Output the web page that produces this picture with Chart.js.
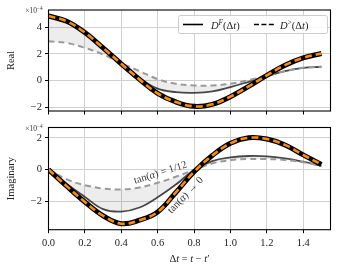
<!DOCTYPE html>
<html><head><meta charset="utf-8">
<script src="https://cdn.jsdelivr.net/npm/chart.js@4"></script>
<style>
html,body{margin:0;padding:0;background:#fff;}
#wrap{position:relative;width:341px;height:273px;overflow:hidden;background:#fff;}
canvas{position:absolute;left:0;}
</style></head><body>
<div id="wrap">
<canvas id="cTop" width="341" height="122" style="top:0px"></canvas>
<canvas id="cBot" width="341" height="155" style="top:118px"></canvas>
</div>
<script>
// ---- data (values in units of 1e-4) ----
const xValues       = [0.0, 0.1, 0.2, 0.3, 0.4, 0.5, 0.6, 0.7, 0.8, 0.9, 1.0, 1.1, 1.2, 1.3, 1.4, 1.5];
const realExact     = [4.85, 4.45, 3.6, 2.45, 1.25, 0.08, -0.97, -1.62, -1.95, -1.8, -1.22, -0.45, 0.38, 1.15, 1.7, 2.03];
const realTan       = [4.8, 4.4, 3.55, 2.42, 1.25, 0.18, -0.62, -0.88, -0.93, -0.83, -0.5, -0.1, 0.32, 0.7, 0.95, 1.03];
const realLesser    = [2.95, 2.82, 2.45, 1.95, 1.3, 0.7, 0.1, -0.25, -0.38, -0.38, -0.25, 0.03, 0.35, 0.7, 0.95, 1.03];
const imagExact     = [0.0, -1.05, -2.05, -2.92, -3.42, -3.2, -2.68, -1.45, -0.15, 0.88, 1.65, 2.0, 1.92, 1.55, 0.92, 0.32];
const imagTan       = [0.0, -0.92, -1.73, -2.5, -2.66, -2.4, -1.75, -0.95, -0.04, 0.53, 0.76, 0.85, 0.83, 0.7, 0.49, 0.23];
const imagLesser    = [0.0, -0.62, -0.99, -1.2, -1.26, -1.14, -0.84, -0.46, -0.02, 0.38, 0.59, 0.66, 0.66, 0.6, 0.45, 0.23];
const xTickValues   = [0.0, 0.2, 0.4, 0.6, 0.8, 1.0, 1.2, 1.4];
const realTickValues = [-2, 0, 2, 4];
const imagTickValues = [-2, 0, 2];
const legendLabels  = ['D^F(Δt)', 'D^>(Δt)'];
const panelTitles   = ['Real', 'Imaginary'];

const SERIF = '"Liberation Serif", "DejaVu Serif", serif';
const GRID = '#d0d0d0';
const FILL = 'rgba(0,0,0,0.07)';

function fmtY(v){ return v < 0 ? '\u2212' + Math.abs(v) : String(v); }

function fontFor(st, size){
  const sup = st === 's' || st === 'sr';
  const it = st === 'i' || st === 's';
  return (it ? 'italic ' : '') + (sup ? size*0.7 : size) + 'px ' + SERIF;
}
function richWidth(ctx, parts, size){
  let w = 0;
  for (const [t, st] of parts){ ctx.font = fontFor(st, size); w += ctx.measureText(t).width; }
  return w;
}
function drawRich(ctx, parts, x, y, size, align){
  const w = richWidth(ctx, parts, size);
  let cx = align === 'center' ? x - w/2 : (align === 'right' ? x - w : x);
  ctx.textBaseline = 'alphabetic';
  ctx.textAlign = 'left';
  for (const [t, st] of parts){
    ctx.font = fontFor(st, size);
    const dy = (st === 's' || st === 'sr') ? -size*0.38 : 0;
    ctx.fillText(t, cx, y + dy);
    cx += ctx.measureText(t).width;
  }
}

function buildDatasets(exact, tan, lesser){
  return [
    {data: tan, borderColor: 'rgba(40,40,40,0.85)', borderWidth: 1.8, order: 4},
    {data: lesser, borderColor: '#9a9a9a', borderWidth: 2, borderDash: [6,4], order: 3,
     fill: {target: 0, above: FILL, below: FILL}},
    {data: exact, borderColor: '#000', borderWidth: 5, order: 2},
    {data: exact, borderColor: '#ff8c00', borderWidth: 2.6, borderDash: [7,4], order: 1}
  ].map(d => Object.assign({pointRadius: 0, tension: 0.4, fill: false}, d))
   .map(d => Object.assign(d, {data: d.data.map((v, i) => ({x: xValues[i], y: v}))}));
}

const framePlugin = {
  id: 'frame',
  afterDatasetsDraw(chart){
    const {ctx, chartArea: a} = chart;
    ctx.save();
    ctx.strokeStyle = '#000';
    ctx.lineWidth = 1.1;
    ctx.strokeRect(a.left, a.top, a.right - a.left, a.bottom - a.top);
    ctx.fillStyle = '#333';
    drawRich(ctx, [['\u00d710', 'r'], ['\u22124', 'sr']], a.left - 6, a.top + 3, 7.5, 'right');
    ctx.restore();
  }
};

function makeOptions(yMin, yMax, yTicks, title, showX, padTop){
  return {
    responsive: false, animation: false, devicePixelRatio: 1,
    layout: {padding: {top: padTop, right: 10.5, left: 0, bottom: 0}},
    plugins: {legend: {display: false}, tooltip: {enabled: false}, filler: {drawTime: 'beforeDatasetsDraw'}},
    scales: {
      x: {
        type: 'linear', min: 0, max: 1.55,
        afterBuildTicks: s => { s.ticks = xTickValues.map(v => ({value: v})); },
        afterFit: s => { s.height = showX ? 43.3 : 11; },
        grid: {color: GRID, lineWidth: 1, tickLength: 3.5, tickColor: '#000', tickWidth: 1},
        border: {display: false},
        ticks: {display: showX, color: '#222', padding: 4, font: {family: SERIF, size: 10.5},
                maxRotation: 0, autoSkip: false, callback: v => Number(v).toFixed(1)}
      },
      y: {
        type: 'linear', min: yMin, max: yMax,
        afterBuildTicks: s => { s.ticks = yTicks.map(v => ({value: v})); },
        afterFit: s => { s.width = 48.5; },
        grid: {color: GRID, lineWidth: 1, tickLength: 3.5, tickColor: '#000', tickWidth: 1},
        border: {display: false},
        title: {display: true, text: title, color: '#222', padding: {top: 5, bottom: 0},
                font: {family: SERIF, size: 10.5}},
        ticks: {color: '#222', padding: 3, font: {family: SERIF, size: 10.5}, callback: v => fmtY(v)}
      }
    }
  };
}

const topLegend = {
  id: 'topLegend',
  afterDraw(chart){
    const ctx = chart.ctx;
    ctx.save();
    ctx.beginPath();
    if (ctx.roundRect) ctx.roundRect(178.5, 15.5, 149, 18, 2); else ctx.rect(178.5, 15.5, 149, 18);
    ctx.fillStyle = 'rgba(255,255,255,0.85)';
    ctx.fill();
    ctx.strokeStyle = '#cccccc';
    ctx.lineWidth = 1;
    ctx.stroke();
    ctx.strokeStyle = '#000';
    ctx.lineWidth = 1.6;
    ctx.beginPath(); ctx.moveTo(183, 24.5); ctx.lineTo(203, 24.5); ctx.stroke();
    ctx.setLineDash([5, 2.4]);
    ctx.beginPath(); ctx.moveTo(254, 24.5); ctx.lineTo(274, 24.5); ctx.stroke();
    ctx.setLineDash([]);
    ctx.fillStyle = '#222';
    const p1 = legendLabels[0].split('^'), p2 = legendLabels[1].split('^');
    drawRich(ctx, [[p1[0], 'i'], [p1[1][0], 's'], ['(Δ', 'r'], ['t', 'i'], [')', 'r']], 211, 28.5, 10.5, 'left');
    drawRich(ctx, [[p2[0], 'i'], [p2[1][0], 'sr'], ['(Δ', 'r'], ['t', 'i'], [')', 'r']], 280, 28.5, 10.5, 'left');
    ctx.restore();
  }
};

const botAnno = {
  id: 'botAnno',
  afterDraw(chart){
    const ctx = chart.ctx, xs = chart.scales.x, ys = chart.scales.y, a = chart.chartArea;
    ctx.save();
    ctx.fillStyle = '#333';
    ctx.save();
    ctx.translate(xs.getPixelForValue(0.615), ys.getPixelForValue(-0.2));
    ctx.rotate(-17.5 * Math.PI / 180);
    drawRich(ctx, [['tan(', 'r'], ['α', 'i'], [') = 1/12', 'r']], 0, 3, 10.5, 'center');
    ctx.restore();
    ctx.save();
    ctx.translate(xs.getPixelForValue(0.752), ys.getPixelForValue(-1.62));
    ctx.rotate(-46 * Math.PI / 180);
    drawRich(ctx, [['tan(', 'r'], ['α', 'i'], [') \u2192 0', 'r']], 0, 3, 10.5, 'center');
    ctx.restore();
    ctx.fillStyle = '#222';
    drawRich(ctx, [['Δ', 'r'], ['t', 'i'], [' = ', 'r'], ['t', 'i'], [' \u2212 ', 'r'], ['t', 'i'], ['\u2032', 'r']],
             (a.left + a.right) / 2, 143.5, 10.5, 'center');
    ctx.restore();
  }
};

new Chart(document.getElementById('cTop'), {
  type: 'line',
  data: {datasets: buildDatasets(realExact, realTan, realLesser)},
  options: makeOptions(-2.3, 5.3, realTickValues, panelTitles[0], false, 10),
  plugins: [framePlugin, topLegend]
});

new Chart(document.getElementById('cBot'), {
  type: 'line',
  data: {datasets: buildDatasets(imagExact, imagTan, imagLesser)},
  options: makeOptions(-3.8, 2.65, imagTickValues, panelTitles[1], true, 9.5),
  plugins: [framePlugin, botAnno]
});
</script>
</body></html>
